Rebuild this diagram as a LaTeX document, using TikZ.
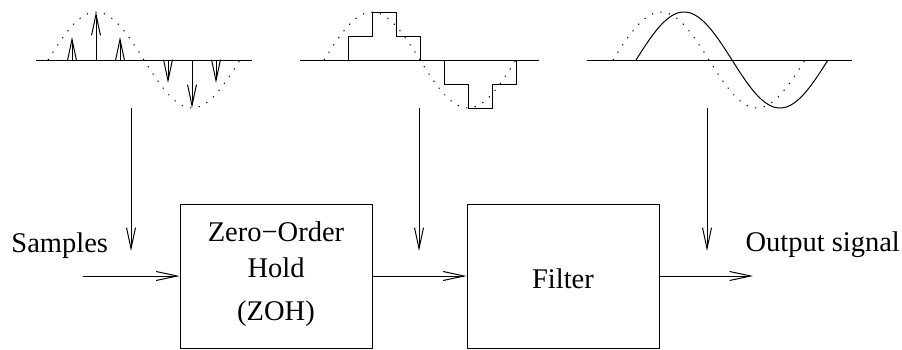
\documentclass[tikz,border=0pt]{standalone}
\usepackage{fontspec}
\setmainfont{Liberation Serif}
\usetikzlibrary{arrows.meta}
\begin{document}
\begin{tikzpicture}[x=1pt,y=-1pt,
  line width=1pt,
  arr/.style={-{Straight Barb[length=21pt,width=9pt]}},
  dots/.style={dash pattern=on 1.2pt off 7.5pt},
  axis/.style={line width=0.9pt},
  blk/.style={draw, minimum width=192pt, minimum height=144pt, inner sep=0pt},
  lbl/.style={font=\fontsize{28.5}{32}\selectfont, inner sep=0pt},
]
\useasboundingbox (0,0) rectangle (902,349);

% ---------- panel 1: samples ----------
\draw[axis] (36,60) -- (252,60);
\draw[dots] plot[domain=48:240, samples=120] (\x,{60-48*sin(1.875*(\x-48))});
\coordinate (s1a) at (72,60);  \coordinate (s1b) at (72,37);
\coordinate (s2a) at (96,60);  \coordinate (s2b) at (96,12);
\coordinate (s3a) at (120,60); \coordinate (s3b) at (120,37);
\coordinate (s4a) at (168,60); \coordinate (s4b) at (168,83);
\coordinate (s5a) at (192,60); \coordinate (s5b) at (192,108);
\coordinate (s6a) at (216,60); \coordinate (s6b) at (216,83);
\foreach \i in {1,...,6} \draw[arr] (s\i a) -- (s\i b);

% ---------- panel 2: zero-order hold ----------
\draw[axis] (300,60) -- (539,60);
\draw[dots] plot[domain=324:516, samples=120] (\x,{60-48*sin(1.875*(\x-324))});
\draw (324,60) -- (348,60) -- (348,36) -- (372,36) -- (372,12) -- (396,12)
  -- (396,36) -- (420,36) -- (420,60) -- (444,60) -- (444,84) -- (468,84)
  -- (468,108) -- (492,108) -- (492,84) -- (516,84) -- (516,60);

% ---------- panel 3: filtered output ----------
\draw[axis] (587,60) -- (852,60);
\draw[dots] plot[domain=613:805, samples=120] (\x,{60-48*sin(1.875*(\x-613))});
\draw plot[domain=636:828, samples=120] (\x,{60-48*sin(1.875*(\x-636))});

% ---------- vertical arrows ----------
\coordinate (v1a) at (131,108); \coordinate (v1b) at (131,251);
\coordinate (v2a) at (419,108); \coordinate (v2b) at (419,251);
\coordinate (v3a) at (707,108); \coordinate (v3b) at (707,251);
\draw[arr] (v1a) -- (v1b);
\draw[arr] (v2a) -- (v2b);
\draw[arr] (v3a) -- (v3b);

% ---------- blocks ----------
\node[blk] (zoh) at (276,276) {};
\node[blk] (filter) at (563,276) {};
\node[lbl, anchor=base] (zt1) at (276,241) {Zero−Order};
\node[lbl, anchor=base] (zt2) at (276,277) {Hold};
\node[lbl, anchor=base] (zt3) at (276,320) {(ZOH)};
\node[lbl, anchor=base] (ft) at (563,288) {Filter};

\node[lbl, anchor=base west] (samples) at (11,252) {Samples};
\node[lbl, anchor=base west] (output) at (745,251) {Output signal};

\coordinate (in) at (83,276);
\coordinate (out) at (753,276);
\draw[arr] (in) -- (zoh.west);
\draw[arr] (zoh.east) -- (filter.west);
\draw[arr] (filter.east) -- (out);
\end{tikzpicture}
\end{document}
